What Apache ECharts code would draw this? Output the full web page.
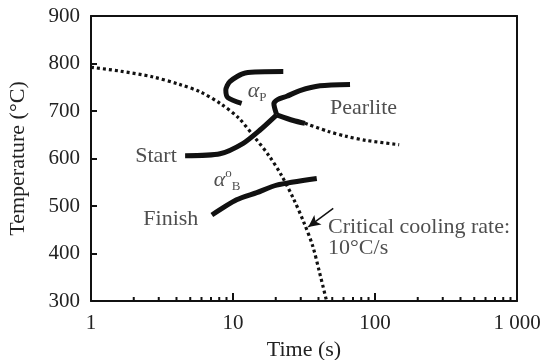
<!DOCTYPE html>
<html><head><meta charset="utf-8">
<script src="https://cdn.jsdelivr.net/npm/echarts@6/dist/echarts.min.js"></script>
<style>html,body{margin:0;padding:0;background:#fff}#c{width:543px;height:360px}</style>
</head><body><div id="c"></div>
<script>
// Axis ticks
const xTickLabels = {1:'1', 10:'10', 100:'100', 1000:'1 000'};
const minorTicks = [2,3,4,5,6,7,8,9,20,30,40,50,60,70,80,90,200,300,400,500,600,700,800,900];
// Critical cooling curve (dotted)
const coolTime = [1,1.6,2.7,4.2,5.9,8.2,10.9,14.0,18.0,21.9,26.7,31.6,36.4,40.7,45.6];
const coolTemp = [792,784,772,756,740,715,686,647,605,565,515,465,416,360,300];
// alpha_P nose
const apTime = [22.6,12.2,9.5,8.9,9.2,11.5];
const apTemp = [783,780,762,744,728,716];
// Start curve
const startTime = [4.6,8.1,11.8,15.5,20.3];
const startTemp = [606,610,632,660,692];
// Pearlite upper branch
const upperTime = [20.3,19.4,20.6,23.9,29.6,41.0,66.7];
const upperTemp = [692,716,724,731,743,753,756];
// Pearlite lower branch (solid) and dotted tail
const lowerTime = [20.3,26.6,32.1];
const lowerTemp = [692,680,674];
const tailTime = [32.1,46.9,62.1,87,148];
const tailTemp = [674,657,647,638,629];
// Finish curve
const finishTime = [7.1,10.6,14.7,20.3,38.9];
const finishTemp = [481,513,528,544,558];
// Arrow (tail -> tip)
const arrowTime = [50.8,33.9];
const arrowTemp = [495,456];
// Annotations
const notes = [
  {t:14.8, T:742, text:'{a|α}{sub|P}', align:'center'},
  {t:83, T:706, text:'Pearlite', align:'center'},
  {t:2.87, T:605, text:'Start', align:'center'},
  {t:9.1, T:555, text:'{a|α}{sup|o}{sub|B}', align:'center'},
  {t:3.65, T:473, text:'Finish', align:'center'},
  {t:46.7, T:456, text:'Critical cooling rate:', align:'left'},
  {t:46.7, T:411, text:'10°C/s', align:'left'}
];

const zip = (a,b) => a.map((v,i)=>[v,b[i]]);
const FONT = 'Liberation Serif';
const INK = '#111';

function solid(name, t, T) {
  return {type:'line', name, data: zip(t,T), symbol:'none', smooth:0.25,
    lineStyle:{color:INK, width:5, cap:'butt', join:'round'}, z:3};
}
function dotted(name, t, T) {
  return {type:'line', name, data: zip(t,T), symbol:'none', smooth:0.3,
    lineStyle:{color:INK, width:3.2, type:[3,3], cap:'butt'}, z:2};
}

const chart = echarts.init(document.getElementById('c'), null, {renderer:'canvas'});
chart.setOption({
  animation:false,
  backgroundColor:'#fff',
  grid:{left:91, right:26, top:16, bottom:59, containLabel:false, outerBoundsMode:'none'},
  xAxis:[{type:'log', logBase:10, min:1, max:1000,
    name:'Time (s)', nameLocation:'middle', nameGap:37,
    nameTextStyle:{fontFamily:FONT, fontSize:22, color:'#222'},
    axisLine:{show:true, lineStyle:{color:INK, width:2}},
    axisTick:{show:true, inside:true, length:8, lineStyle:{color:INK, width:2}},
    axisLabel:{fontFamily:FONT, fontSize:21, color:'#222', margin:12,
      formatter: v => xTickLabels[Math.round(v)] || ''},
    splitLine:{show:false}},
   {type:'log', logBase:10, min:1, max:1000, position:'top',
    axisLine:{show:true, onZero:false, lineStyle:{color:INK, width:2}},
    axisTick:{show:false}, axisLabel:{show:false}, splitLine:{show:false}}],
  yAxis:[{type:'value', min:300, max:900, interval:100,
    name:'Temperature (°C)', nameLocation:'middle', nameGap:62,
    nameTextStyle:{fontFamily:FONT, fontSize:22, color:'#222'},
    axisLine:{show:true, lineStyle:{color:INK, width:2}},
    axisTick:{show:true, inside:true, length:6, lineStyle:{color:INK, width:2}},
    axisLabel:{fontFamily:FONT, fontSize:21, color:'#222', margin:11},
    splitLine:{show:false}},
   {type:'value', min:300, max:900, interval:100, position:'right',
    axisLine:{show:true, onZero:false, lineStyle:{color:INK, width:2}},
    axisTick:{show:false}, axisLabel:{show:false}, splitLine:{show:false}}],
  series:[
    dotted('cool', coolTime, coolTemp),
    dotted('tail', tailTime, tailTemp),
    solid('ap', apTime, apTemp),
    solid('start', startTime, startTemp),
    solid('upper', upperTime, upperTemp),
    solid('lower', lowerTime, lowerTemp),
    solid('finish', finishTime, finishTemp),
    {type:'custom', name:'minorTicks', data: minorTicks.map(v=>[v,300]), clip:false, z:10,
      renderItem:(params, api) => {
        const p = api.coord([api.value(0), api.value(1)]);
        return {type:'line', shape:{x1:p[0], y1:p[1], x2:p[0], y2:p[1]-4},
          style:{stroke:INK, lineWidth:2}};
      }},
    {type:'line', name:'arrow', data:[], symbol:'none',
      markLine:{silent:true, symbol:['none','arrow'], symbolSize:[9,12],
        label:{show:false}, lineStyle:{color:INK, width:1.5, type:'solid'},
        data:[[{coord:[arrowTime[0], arrowTemp[0]]},{coord:[arrowTime[1], arrowTemp[1]]}]]}},
    {type:'scatter', name:'notes', symbolSize:0, z:5, silent:true,
      data: notes.map(n => ({value:[n.t, n.T],
        label:{show:true, position:[0,0], align:n.align, verticalAlign:'middle',
          formatter:n.text, fontFamily:FONT, fontSize:22, color:'#222', lineHeight:26,
          rich:{
            a:{fontFamily:FONT, fontSize:22, fontStyle:'italic', color:'#222', lineHeight:26},
            sub:{fontFamily:FONT, fontSize:13, color:'#222', verticalAlign:'bottom', lineHeight:26},
            sup:{fontFamily:FONT, fontSize:13, color:'#222', verticalAlign:'top', lineHeight:26}
          }}}))}
  ]
});
</script></body></html>
